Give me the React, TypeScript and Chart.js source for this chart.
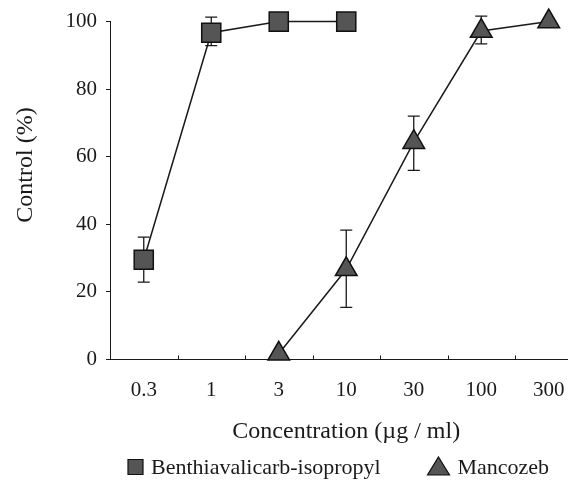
import React, { useEffect, useRef } from 'react';
import { Chart, registerables } from 'chart.js';

Chart.register(...registerables);

const categories = ['0.3', '1', '3', '10', '30', '100', '300'];
const benthiaValues = [29.5, 96.7, 100, 100, null, null, null];
const benthiaErrLow = [22.9, 92.9, null, null, null, null, null];
const benthiaErrHigh = [36.2, 101.3, null, null, null, null, null];
const mancozebValues = [null, null, 1.7, 26.7, 64.3, 97.2, 100];
const mancozebErrLow = [null, null, null, 15.4, 56, 93.4, null];
const mancozebErrHigh = [null, null, null, 38.3, 72, 101.6, null];
const yTickValues = [0, 20, 40, 60, 80, 100];
const seriesNames = ['Benthiavalicarb-isopropyl', 'Mancozeb'];
const yTitle = 'Control (%)';
const xTitle = 'Concentration (µg / ml)';

const errLows = [benthiaErrLow, mancozebErrLow];
const errHighs = [benthiaErrHigh, mancozebErrHigh];

const FONT = "'Liberation Serif', 'DejaVu Serif', serif";
const INK = '#1a1a1a';
const MARK_FILL = '#555555';
const MARK_EDGE = '#111';

const errorBarPlugin = {
  id: 'errorBars',
  beforeDatasetsDraw(chart: any) {
    const ctx = chart.ctx;
    const ys = chart.scales.y;
    ctx.save();
    ctx.strokeStyle = INK;
    ctx.lineWidth = 1.3;
    chart.data.datasets.forEach((_ds: any, di: number) => {
      const meta = chart.getDatasetMeta(di);
      meta.data.forEach((pt: any, i: number) => {
        const lo = errLows[di][i];
        const hi = errHighs[di][i];
        if (lo == null || hi == null) return;
        const x = pt.x;
        const y1 = ys.getPixelForValue(lo);
        const y2 = ys.getPixelForValue(hi);
        const cap = 6;
        ctx.beginPath();
        ctx.moveTo(x, y1);
        ctx.lineTo(x, y2);
        ctx.moveTo(x - cap, y1);
        ctx.lineTo(x + cap, y1);
        ctx.moveTo(x - cap, y2);
        ctx.lineTo(x + cap, y2);
        ctx.stroke();
      });
    });
    ctx.restore();
  },
};

const decorPlugin = {
  id: 'decor',
  afterDraw(chart: any) {
    const ctx = chart.ctx;
    const xs = chart.scales.x;
    const { bottom } = chart.chartArea;
    ctx.save();
    ctx.strokeStyle = INK;
    ctx.lineWidth = 1;
    for (let i = 0; i < categories.length - 1; i++) {
      const x = Math.round((xs.getPixelForValue(i) + xs.getPixelForValue(i + 1)) / 2) + 0.5;
      ctx.beginPath();
      ctx.moveTo(x, bottom);
      ctx.lineTo(x, bottom - 4);
      ctx.stroke();
    }
    ctx.fillStyle = INK;
    ctx.font = `24px ${FONT}`;
    ctx.textAlign = 'center';
    ctx.textBaseline = 'middle';
    ctx.translate(26, 165);
    ctx.rotate(-Math.PI / 2);
    ctx.fillText(yTitle, 0, 0);
    ctx.restore();

    ctx.save();
    const ly = 467;
    ctx.font = `22px ${FONT}`;
    ctx.textAlign = 'left';
    ctx.textBaseline = 'middle';
    ctx.lineWidth = 1.2;
    ctx.fillStyle = MARK_FILL;
    ctx.strokeStyle = MARK_EDGE;
    const sq = 15;
    const sqx = 128;
    ctx.beginPath();
    ctx.rect(sqx, ly - sq / 2, sq, sq);
    ctx.fill();
    ctx.stroke();
    ctx.fillStyle = INK;
    ctx.fillText(seriesNames[0], sqx + sq + 8, ly + 1);
    const tx = 438.5;
    const tw = 22;
    const th = 18;
    ctx.beginPath();
    ctx.moveTo(tx, ly - th / 2 - 1);
    ctx.lineTo(tx + tw / 2, ly + th / 2 - 1);
    ctx.lineTo(tx - tw / 2, ly + th / 2 - 1);
    ctx.closePath();
    ctx.fillStyle = MARK_FILL;
    ctx.fill();
    ctx.stroke();
    ctx.fillStyle = INK;
    ctx.fillText(seriesNames[1], tx + tw / 2 + 8, ly + 1);
    ctx.restore();
  },
};

export default function App() {
  const ref = useRef<HTMLCanvasElement | null>(null);

  useEffect(() => {
    if (!ref.current) return;
    const common = {
      borderColor: INK,
      borderWidth: 1.5,
      pointBackgroundColor: MARK_FILL,
      pointBorderColor: MARK_EDGE,
      pointBorderWidth: 1.5,
      backgroundColor: MARK_FILL,
      clip: false,
    };
    const chart = new Chart(ref.current, {
      type: 'line',
      data: {
        labels: categories,
        datasets: [
          {
            ...common,
            label: seriesNames[0],
            data: benthiaValues,
            pointStyle: 'rect',
            pointRadius: 13.5,
          } as any,
          {
            ...common,
            label: seriesNames[1],
            data: mancozebValues,
            pointStyle: 'triangle',
            pointRadius: 12.5,
          } as any,
        ],
      },
      options: {
        responsive: false,
        animation: false,
        layout: { padding: { top: 21, right: 17.5, left: 0, bottom: 0 } },
        plugins: {
          legend: { display: false },
          tooltip: { enabled: false },
        },
        scales: {
          x: {
            type: 'category',
            offset: true,
            afterFit: (scale: any) => {
              scale.height = 124.5;
            },
            grid: { display: false, drawOnChartArea: false, drawTicks: false },
            border: { display: true, color: INK, width: 1 },
            ticks: { color: INK, font: { family: FONT, size: 21 }, padding: 18 },
            title: {
              display: true,
              text: xTitle,
              color: INK,
              font: { family: FONT, size: 24 },
              padding: { top: 14, bottom: 37.6 },
            },
          },
          y: {
            min: 0,
            max: 100,
            afterBuildTicks: (scale: any) => {
              scale.ticks = yTickValues.map((v) => ({ value: v }));
            },
            afterFit: (scale: any) => {
              scale.width = 110;
            },
            grid: { drawOnChartArea: false, drawTicks: true, tickLength: 4, color: INK },
            border: { display: true, color: INK, width: 1 },
            ticks: { color: INK, font: { family: FONT, size: 21 }, padding: 9 },
          },
        },
      },
      plugins: [errorBarPlugin, decorPlugin],
    });
    return () => chart.destroy();
  }, []);

  return (
    <div
      style={{
        position: 'fixed',
        left: 0,
        top: 0,
        width: 568,
        height: 484,
        overflow: 'hidden',
        background: '#fff',
      }}
    >
      <canvas ref={ref} width={600} height={484} style={{ width: 600, height: 484, display: 'block' }} />
    </div>
  );
}
